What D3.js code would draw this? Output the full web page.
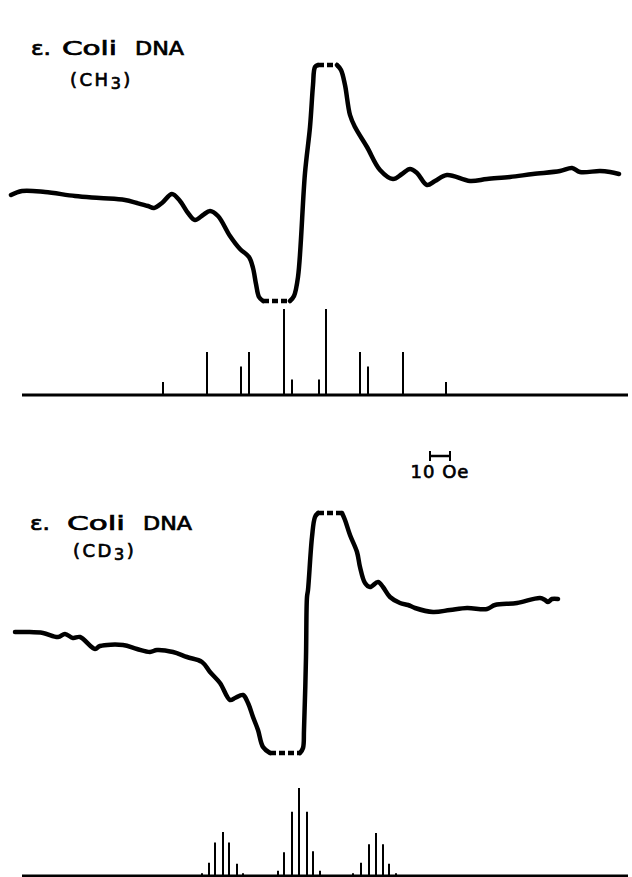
<!DOCTYPE html>
<html>
<head>
<meta charset="utf-8">
<script src="https://cdn.jsdelivr.net/npm/d3@7"></script>
<style>
  body { margin: 0; background: #fff; }
  svg text { font-family: "DejaVu Sans", Arial, sans-serif; fill: #000; stroke: #000; stroke-width: 0.7; }
</style>
</head>
<body>
<svg id="chart"></svg>
<script>
const width = 632;
const height = 877;

// field offsets (Oe) from the line centre, derivative signal in arbitrary units
const chTraceField = [-147, -141.5, -130, -115, -102.5, -90, -84, -78.5, -75.5, -71.5, -66.5, -62.5, -58.5, -55, -51, -47.5, -43.5, -37.5, -32.5, -28, -26, -24.5, -23, -21, -7.5, -5.5, -3.5, 0, 2.5, 4, 5, 6.5, 16, 18, 20, 22.5, 25, 31, 37.5, 44, 48.5, 52.5, 56, 61, 65, 71, 82.5, 91, 102.5, 114, 127.5, 133.5, 137.5, 147.5, 152.5, 157];
const chTraceSignal = [-12, -8, -9, -13, -15, -17, -20, -23, -25, -20, -11, -18, -30, -37, -32, -28, -33, -53, -66, -74, -85, -101, -114, -118, -118, -113, -94, 10, 56, 98, 116, 118, 118, 113, 98, 68, 56, 36, 13, 4, 9, 14, 10, -2, 2, 8, 2, 4, 6, 9, 12, 15, 11, 12, 11, 9];

const cdTraceField = [-145, -139, -131, -123.5, -120, -116, -112.5, -105, -102.5, -91, -84, -77.5, -74, -66, -59, -51.5, -47.5, -42.5, -37.5, -35, -31, -28.5, -26, -23.5, -21, -17.5, -2.5, -1, -0.5, 0.5, 1, 1.5, 3.5, 5, 6.5, 18.5, 20, 22.5, 26, 27.5, 30, 32.5, 36.5, 39, 42.5, 47.5, 51.5, 55, 64, 72.5, 81, 91, 95, 106, 117.5, 120, 121.5, 123.5, 126.5];
const cdTraceSignal = [1, 1, 0, -4, -1, -5, -4, -16, -13, -12, -16, -19, -17, -19, -24, -29, -39, -50, -67, -65, -62, -70, -84, -97, -114, -120, -120, -115, -97, -24, 36, 43, 96, 116, 120, 120, 113, 98, 81, 66, 50, 46, 51, 46, 36, 30, 28, 25, 21, 23, 25, 24, 28, 30, 35, 33, 31, 34, 34];

// simulated hyperfine stick spectra (relative intensity, tallest = 100)
const chStickField = [-71, -49, -32, -28, -10.5, -6.5, 7, 10.5, 27.5, 31.5, 49, 70.5];
const chStickIntensity = [15, 50, 33, 50, 100, 18, 18, 100, 50, 33, 50, 15];

const cdStickField = [-51.5, -48, -45, -41, -38, -34, -31, -13.5, -10.5, -6.5, -3, 1, 4, 7.5, 24, 28, 32, 35.5, 39, 42, 45.5];
const cdStickIntensity = [3, 15, 38, 50, 38, 14, 3, 6, 27, 73, 100, 73, 28, 6, 3, 15, 36, 49, 36, 14, 3];

const fieldExtent = [-141.5, 161.5];
const scaleBarField = [62.5, 72.5];
const scaleBarLabel = "10 Oe";
const panelNames = [["ε.", "Coli", "DNA"], ["ε.", "Coli", "DNA"]];
const panelGroups = [["(CH", "3", ")"], ["(CD", "3", ")"]];

const svg = d3.select("#chart")
    .attr("width", width)
    .attr("height", height);

const x = d3.scaleLinear().domain(fieldExtent).range([22, 628]);

const panels = [
    {
        field: chTraceField, signal: chTraceSignal, clip: 118,
        y: d3.scaleLinear().domain([-118, 118]).range([301, 65]),
        sticks: chStickField, intens: chStickIntensity,
        stickY: d3.scaleLinear().domain([0, 100]).range([395, 309]),
        name: panelNames[0], group: panelGroups[0],
        label: { y: 55, words: [[31, 20], [62, 55], [135, 49]], x2: 70, y2: 86 }
    },
    {
        field: cdTraceField, signal: cdTraceSignal, clip: 120,
        y: d3.scaleLinear().domain([-120, 120]).range([753, 513]),
        sticks: cdStickField, intens: cdStickIntensity,
        stickY: d3.scaleLinear().domain([0, 100]).range([876, 788]),
        name: panelNames[1], group: panelGroups[1],
        label: { y: 530, words: [[30, 20], [67, 58], [143, 49]], x2: 73, y2: 557 }
    }
];

// break a trace into solid runs and the clipped (dashed) flats
function splitTrace(field, signal, clip) {
    const pts = field.map((f, i) => [f, signal[i]]);
    const runs = [];
    let cur = [pts[0]];
    let flat = false;
    for (let i = 1; i < pts.length; i++) {
        const isFlat = Math.abs(pts[i - 1][1]) >= clip && Math.abs(pts[i][1]) >= clip;
        if (isFlat !== flat) {
            runs.push({ dashed: flat, pts: cur });
            cur = [pts[i - 1]];
            flat = isFlat;
        }
        cur.push(pts[i]);
    }
    runs.push({ dashed: flat, pts: cur });
    return runs.filter(r => r.pts.length > 1);
}

panels.forEach(p => {
    const g = svg.append("g");

    const line = d3.line()
        .x(d => x(d[0]))
        .y(d => p.y(d[1]))
        .curve(d3.curveCatmullRom.alpha(0.5));

    g.selectAll("path.trace")
        .data(splitTrace(p.field, p.signal, p.clip))
        .enter().append("path")
        .attr("class", "trace")
        .attr("d", d => line(d.pts))
        .attr("fill", "none")
        .attr("stroke", "#000")
        .attr("stroke-width", 4.5)
        .attr("stroke-linecap", d => d.dashed ? "butt" : "round")
        .attr("stroke-linejoin", "round")
        .attr("stroke-dasharray", d => d.dashed ? "6,3" : null);

    // stick baseline
    g.append("line")
        .attr("x1", x(fieldExtent[0]))
        .attr("x2", x(fieldExtent[1]))
        .attr("y1", p.stickY(0))
        .attr("y2", p.stickY(0))
        .attr("stroke", "#000")
        .attr("stroke-width", 3);

    g.selectAll("line.stick")
        .data(p.sticks)
        .enter().append("line")
        .attr("class", "stick")
        .attr("x1", d => x(d))
        .attr("x2", d => x(d))
        .attr("y1", p.stickY(0))
        .attr("y2", (d, i) => p.stickY(p.intens[i]))
        .attr("stroke", "#000")
        .attr("stroke-width", 2);

    g.selectAll("text.word")
        .data(p.name)
        .enter().append("text")
        .attr("class", "word")
        .attr("x", (d, i) => p.label.words[i][0])
        .attr("y", p.label.y)
        .attr("font-size", 19)
        .attr("textLength", (d, i) => p.label.words[i][1])
        .attr("lengthAdjust", "spacingAndGlyphs")
        .text(d => d);

    const t2 = g.append("text")
        .attr("x", p.label.x2)
        .attr("y", p.label.y2)
        .attr("font-size", 18)
        .attr("letter-spacing", 2.5);
    t2.append("tspan").text(p.group[0]);
    t2.append("tspan").attr("dy", 3).attr("font-size", 16).text(p.group[1]);
    t2.append("tspan").attr("dy", -3).text(p.group[2]);
});

// 10 Oe scale bar
const bar = svg.append("g");
bar.append("line")
    .attr("x1", x(scaleBarField[0])).attr("x2", x(scaleBarField[1]))
    .attr("y1", 456).attr("y2", 456)
    .attr("stroke", "#000").attr("stroke-width", 2.5);
bar.selectAll("line.end")
    .data(scaleBarField)
    .enter().append("line")
    .attr("class", "end")
    .attr("x1", d => x(d)).attr("x2", d => x(d))
    .attr("y1", 451).attr("y2", 461)
    .attr("stroke", "#000").attr("stroke-width", 2);
bar.append("text")
    .attr("x", x(d3.mean(scaleBarField)))
    .attr("y", 478)
    .attr("text-anchor", "middle")
    .attr("font-size", 18)
    .attr("letter-spacing", 1)
    .text(scaleBarLabel);
</script>
</body>
</html>
